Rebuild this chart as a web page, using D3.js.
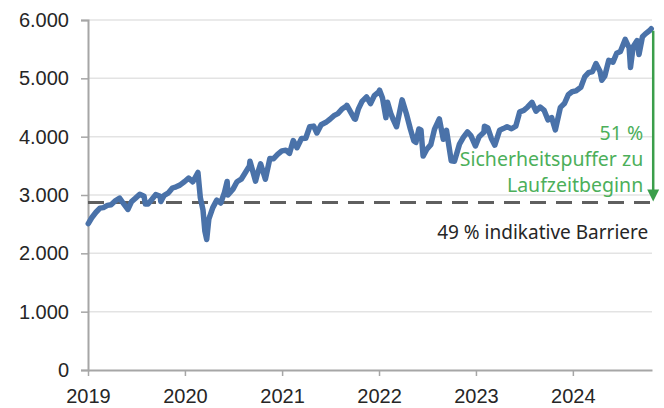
<!DOCTYPE html>
<html>
<head>
<meta charset="utf-8">
<script src="https://cdn.jsdelivr.net/npm/d3@7"></script>
<style>
  body { margin: 0; background: #fff; }
  svg { display: block; font-family: "Noto Sans", sans-serif; }
</style>
</head>
<body>
<svg id="chart" width="664" height="408"></svg>
<script>
const dates = [
  "2019-01-02","2019-01-15","2019-01-31","2019-02-15","2019-02-28","2019-03-15","2019-03-29","2019-04-15","2019-04-30","2019-05-15","2019-05-31","2019-06-14","2019-06-28","2019-07-15","2019-07-31","2019-08-05","2019-08-15","2019-08-30","2019-09-13","2019-09-30","2019-10-02","2019-10-15","2019-10-31","2019-11-15","2019-11-29","2019-12-13","2019-12-31",
  "2020-01-15","2020-01-31","2020-02-19","2020-02-28","2020-03-09","2020-03-16","2020-03-23","2020-03-31","2020-04-15","2020-04-30","2020-05-15","2020-05-29","2020-06-08","2020-06-11","2020-06-30","2020-07-15","2020-07-31","2020-08-14","2020-08-31","2020-09-02","2020-09-23","2020-09-30","2020-10-12","2020-10-30","2020-11-16","2020-11-30","2020-12-15","2020-12-31",
  "2021-01-15","2021-01-29","2021-02-12","2021-02-26","2021-03-15","2021-03-31","2021-04-15","2021-04-30","2021-05-12","2021-05-28","2021-06-15","2021-06-30","2021-07-15","2021-07-30","2021-08-16","2021-08-31","2021-09-02","2021-09-30","2021-10-04","2021-10-15","2021-10-29","2021-11-15","2021-11-30","2021-12-15","2021-12-31",
  "2022-01-03","2022-01-14","2022-01-27","2022-02-02","2022-02-14","2022-02-24","2022-03-08","2022-03-29","2022-04-14","2022-04-29","2022-05-12","2022-05-20","2022-05-31","2022-06-08","2022-06-16","2022-06-30","2022-07-15","2022-07-29","2022-08-16","2022-08-31","2022-09-12","2022-09-30","2022-10-12","2022-10-31","2022-11-15","2022-11-30","2022-12-13","2022-12-30",
  "2023-01-13","2023-01-31","2023-02-02","2023-02-15","2023-02-28","2023-03-13","2023-03-31","2023-04-14","2023-04-28","2023-05-15","2023-05-31","2023-06-15","2023-06-30","2023-07-14","2023-07-31","2023-08-15","2023-08-31","2023-09-15","2023-09-29","2023-10-13","2023-10-27","2023-11-15","2023-11-30","2023-12-15","2023-12-29",
  "2024-01-12","2024-01-31","2024-02-15","2024-02-29","2024-03-15","2024-03-28","2024-04-12","2024-04-19","2024-04-30","2024-05-15","2024-05-31","2024-06-14","2024-06-28","2024-07-16","2024-07-31","2024-08-05","2024-08-15","2024-08-30","2024-09-06","2024-09-19","2024-09-30","2024-10-15","2024-10-22"
];
const values = [
  2510,2610,2704,2775,2784,2822,2834,2905,2945,2850,2752,2887,2942,3014,2980,2844,2847,2926,3007,2977,2887,2995,3038,3120,3141,3169,3231,
  3289,3226,3386,2954,2746,2386,2237,2585,2783,2912,2863,3044,3232,3002,3100,3227,3271,3373,3500,3580,3237,3363,3535,3270,3627,3622,3695,3756,
  3768,3714,3934,3811,3968,3973,4170,4181,4063,4204,4246,4298,4360,4395,4479,4523,4537,4308,4300,4471,4605,4682,4567,4709,4766,
  4796,4662,4326,4589,4401,4288,4170,4631,4392,4132,3930,3901,4132,4116,3667,3785,3863,4130,4305,3955,4110,3586,3577,3872,3992,4080,4019,3840,
  3999,4077,4179,4148,3970,3855,4109,4138,4169,4136,4180,4426,4450,4505,4589,4437,4508,4450,4288,4328,4117,4502,4568,4719,4770,
  4784,4846,5030,5096,5117,5254,5123,4967,5036,5308,5278,5431,5460,5667,5522,5186,5543,5648,5408,5713,5762,5815,5850
];
const yTicks = [0, 1000, 2000, 3000, 4000, 5000, 6000];
const xTicks = ["2019-01-01","2020-01-01","2021-01-01","2022-01-01","2023-01-01","2024-01-01"];
const barrierLevel = 2873;
const bufferLabel = ["51 %", "Sicherheitspuffer zu", "Laufzeitbeginn"];
const barrierLabel = "49 % indikative Barriere";

const width = 664;
const height = 408;
const margin = { top: 20, right: 12, bottom: 38, left: 88 };
const lineColor = "#4a72a9";
const green = "#3b9e4b";
const axisColor = "#a6a6a6";
const gridColor = "#e3e3e3";
const textColor = "#262626";

const parse = d3.timeParse("%Y-%m-%d");
const data = dates.map((d, i) => ({ date: parse(d), value: values[i] }));

const de = d3.formatLocale({ decimal: ",", thousands: ".", grouping: [3], currency: ["", " €"] });
const fmt = de.format(",.0f");

const svg = d3.select("#chart");

const x = d3.scaleTime()
  .domain([parse("2019-01-01"), parse("2024-10-25")])
  .range([margin.left, width - margin.right]);
const y = d3.scaleLinear()
  .domain([0, 6000])
  .range([height - margin.bottom, margin.top]);

// gridlines
svg.append("g")
  .selectAll("line")
  .data(yTicks.filter(d => d > 0))
  .join("line")
  .attr("x1", margin.left)
  .attr("x2", width - margin.right)
  .attr("y1", d => y(d))
  .attr("y2", d => y(d))
  .attr("stroke", gridColor)
  .attr("stroke-width", 1.5);

// y axis
const yAxis = svg.append("g")
  .attr("transform", `translate(${margin.left},0)`)
  .call(d3.axisLeft(y).tickValues(yTicks).tickFormat(fmt).tickSize(7).tickPadding(12));
yAxis.select(".domain").attr("stroke", axisColor).attr("stroke-width", 2);
yAxis.selectAll(".tick line").attr("stroke", axisColor).attr("stroke-width", 1.5);
yAxis.selectAll(".tick text").attr("fill", textColor).style("font-size", "20px");

// x axis
const xAxis = svg.append("g")
  .attr("transform", `translate(0,${height - margin.bottom})`)
  .call(d3.axisBottom(x).tickValues(xTicks.map(parse)).tickFormat(d3.timeFormat("%Y")).tickSize(6).tickPadding(13).tickSizeOuter(0));
xAxis.select(".domain").attr("stroke", axisColor).attr("stroke-width", 2);
xAxis.selectAll(".tick line").attr("stroke", axisColor).attr("stroke-width", 1.5);
xAxis.selectAll(".tick text").attr("fill", textColor).style("font-size", "20px");

// barrier
svg.append("line")
  .attr("x1", margin.left)
  .attr("x2", width - margin.right)
  .attr("y1", y(barrierLevel))
  .attr("y2", y(barrierLevel))
  .attr("stroke", "#5f5f5f")
  .attr("stroke-width", 3)
  .attr("stroke-dasharray", "16,10");

// index line
svg.append("path")
  .datum(data)
  .attr("fill", "none")
  .attr("stroke", lineColor)
  .attr("stroke-width", 5.5)
  .attr("stroke-linejoin", "round")
  .attr("stroke-linecap", "round")
  .attr("d", d3.line().x(d => x(d.date)).y(d => y(d.value)));

// arrow
const last = data[data.length - 1];
const ax = x(last.date) + 2;
svg.append("line")
  .attr("x1", ax).attr("x2", ax)
  .attr("y1", y(last.value) + 2)
  .attr("y2", y(barrierLevel) - 10)
  .attr("stroke", green)
  .attr("stroke-width", 2.5);
svg.append("path")
  .attr("d", `M${ax - 6},${y(barrierLevel) - 13} L${ax + 6},${y(barrierLevel) - 13} L${ax},${y(barrierLevel) - 1} Z`)
  .attr("fill", green);

// annotations
svg.append("g")
  .selectAll("text")
  .data(bufferLabel)
  .join("text")
  .attr("x", ax - 10)
  .attr("y", (d, i) => 140 + i * 26)
  .attr("text-anchor", "end")
  .attr("fill", "#4caf5a")
  .style("font-size", "19.5px")
  .text(d => d);

svg.append("text")
  .attr("x", ax - 5)
  .attr("y", y(barrierLevel) + 37)
  .attr("text-anchor", "end")
  .attr("fill", textColor)
  .style("font-size", "19px")
  .text(barrierLabel);
</script>
</body>
</html>
